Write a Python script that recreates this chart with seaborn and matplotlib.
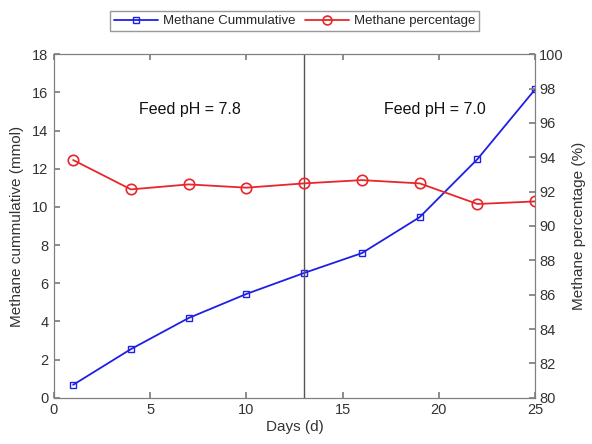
import matplotlib
matplotlib.use("Agg")
import matplotlib.pyplot as plt
import seaborn as sns
import pandas as pd

days = [1, 4, 7, 10, 13, 16, 19, 22, 25]
methane_cumulative = [0.68, 2.55, 4.18, 5.44, 6.54, 7.58, 9.46, 12.5, 16.16]
methane_percentage = [93.84, 92.13, 92.42, 92.23, 92.48, 92.67, 92.48, 91.28, 91.43]
phase_labels = ["Feed pH = 7.8", "Feed pH = 7.0"]
switch_day = 13

sns.set_theme(style="white")
plt.rcParams['font.family'] = ['Liberation Sans', 'DejaVu Sans']

df = pd.DataFrame({"day": days, "cum": methane_cumulative, "pct": methane_percentage})

fig = plt.figure(figsize=(5.92, 4.44), dpi=100)
ax = fig.add_axes([0.091, 0.104, 0.813, 0.774])
ax2 = ax.twinx()

blue = "#1f1fe6"
red = "#e8262b"
grey = "#7f7f7f"

sns.lineplot(data=df, x="day", y="cum", ax=ax, color=blue, marker="s", markersize=5,
             markerfacecolor="none", markeredgecolor=blue, markeredgewidth=1.0,
             linewidth=1.3, label="Methane Cummulative", legend=False)
sns.lineplot(data=df, x="day", y="pct", ax=ax2, color=red, marker="o", markersize=7.5,
             markerfacecolor="none", markeredgecolor=red, markeredgewidth=1.2,
             linewidth=1.3, label="Methane percentage", legend=False)

ax.axvline(switch_day, color="#555555", linewidth=1.0)

ax.set_xlim(0, 25)
ax.set_ylim(0, 18)
ax2.set_ylim(80, 100)
ax.set_xticks(range(0, 26, 5))
ax.set_yticks(range(0, 19, 2))
ax2.set_yticks(range(80, 101, 2))

ax.set_xlabel("Days (d)", fontsize=11, color="#333333", labelpad=2)
ax.set_ylabel("Methane cummulative (mmol)", fontsize=11, color="#333333", labelpad=6)
ax2.set_ylabel("Methane percentage (%)", fontsize=11, color="#333333", labelpad=6)

for a in (ax, ax2):
    for s in a.spines.values():
        s.set_color(grey)
        s.set_linewidth(0.8)
ax.tick_params(axis="both", direction="in", length=4, color=grey, labelsize=10.5,
               labelcolor="#333333", top=True, pad=4)
ax.tick_params(axis="y", left=True, right=False)
ax.tick_params(axis="x", bottom=True)
ax2.tick_params(axis="y", direction="in", length=4, color=grey, labelsize=10.5,
                labelcolor="#333333", right=True, pad=3)

ax.text(7.05, 15.1, phase_labels[0], ha="center", va="center", fontsize=11.5, color="#111111")
ax.text(19.8, 15.1, phase_labels[1], ha="center", va="center", fontsize=11.5, color="#111111")

h1, l1 = ax.get_legend_handles_labels()
h2, l2 = ax2.get_legend_handles_labels()
fig.legend(h1 + h2, l1 + l2, loc="upper center", bbox_to_anchor=(0.498, 0.99), ncol=2,
           fontsize=9.5, frameon=True, fancybox=False, edgecolor=grey,
           handlelength=3.3, columnspacing=0.75, borderpad=0.3, handletextpad=0.38,
           markerscale=0.85)

fig.savefig("out.png", dpi=100)
